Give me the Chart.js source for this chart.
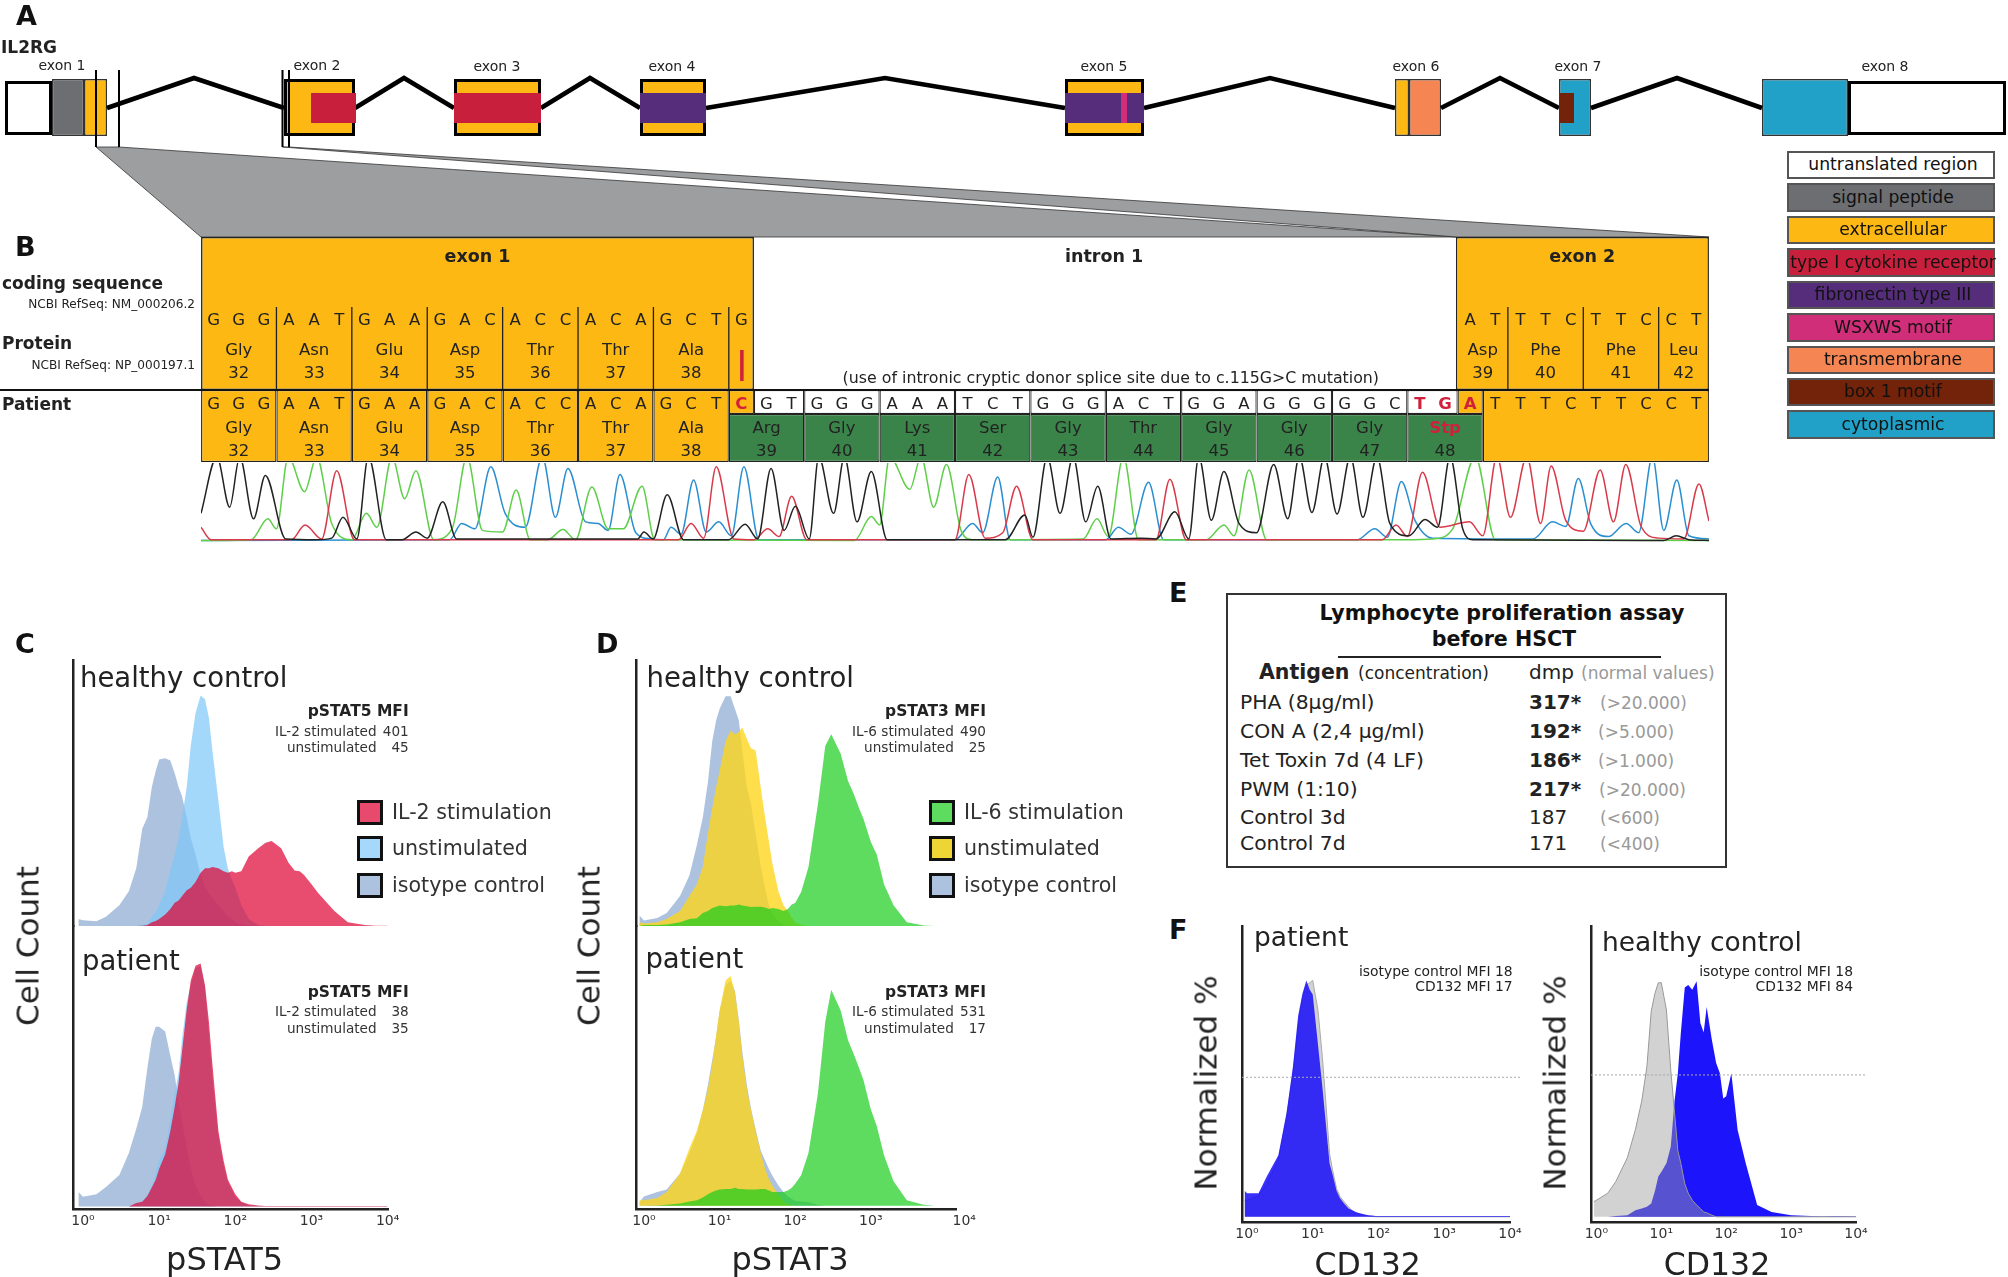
<!DOCTYPE html>
<html>
<head>
<meta charset="utf-8">
<title>IL2RG</title>
<script src="https://cdn.jsdelivr.net/npm/chart.js@4"></script>
<style>
html, body { margin: 0; background: #fff; }
#page { position: relative; width: 2008px; height: 1277px; overflow: hidden; font-family: "DejaVu Sans", sans-serif; }
canvas { position: absolute; }
.t { position: absolute; white-space: nowrap; line-height: 1; color: #222; }
.box { position: absolute; box-sizing: border-box; }
</style>
</head>
<body>
<div id="page"></div>
<script>
/* ---------- gene model (panel A) ---------- */
const exonNames = ["exon 1", "exon 2", "exon 3", "exon 4", "exon 5", "exon 6", "exon 7", "exon 8"];
const exonCentres = [62, 317, 497, 672, 1104, 1416, 1578, 1885];
const domainNames = ["untranslated region", "signal peptide", "extracellular", "type I cytokine receptor", "fibronectin type III", "WSXWS motif", "transmembrane", "box 1 motif", "cytoplasmic"];
const segStart = [5, 1848, 52, 84, 284, 454, 640, 1065, 1395, 1409, 1559, 1762];
const segEnd = [52, 2006, 84, 107, 355, 541, 706, 1144, 1409, 1441, 1591, 1848];
const segDomain = [0, 0, 1, 2, 2, 2, 2, 2, 2, 6, 8, 8];
const stripStart = [311, 454, 640, 1065, 1559, 1121];
const stripEnd = [356, 541, 706, 1144, 1574, 1127];
const stripDomain = [3, 3, 4, 4, 7, 5];
const intronX = [[107, 194, 284], [355, 404, 454], [541, 590, 640], [706, 885, 1065], [1144, 1270, 1395], [1441, 1500, 1559], [1591, 1677, 1762]];
const markerX = [96, 119, 282.5, 289];

/* ---------- sequence (panel B) ---------- */
const refBases = "GGGAATGAAGACACCACAGCTG";
const refBases2 = "ATTTCTTCCT";
const patientBases = "GGGAATGAAGACACCACAGCTCGTGGGAAATCTGGGACTGGAGGGGGCTGATTTCTTCCT";
const mutatedBases = [21, 48, 49, 50];
const refAA = ["Gly", "Asn", "Glu", "Asp", "Thr", "Thr", "Ala"];
const refAANum = [32, 33, 34, 35, 36, 37, 38];
const refAA2 = ["Asp", "Phe", "Phe", "Leu"];
const refAA2Num = [39, 40, 41, 42];
const refAA2Edges = [50, 52, 55, 58, 60];
const patientAA = ["Arg", "Gly", "Lys", "Ser", "Gly", "Thr", "Gly", "Gly", "Gly", "Stp"];
const patientAANum = [39, 40, 41, 42, 43, 44, 45, 46, 47, 48];

/* chromatogram traces: base position, signal */
const traceGx = [0, .63, 1.14, 1.54, 2.09, 2.56, 3.37, 4.59, 5.2, 5.65, 6.2, 6.66, 7.37, 8, 8.55, 9, 9.62, 10.17, 17.38, 17.62, 17.99, 18.55, 19.2, 20.43, 21, 21.65, 22.15, 22.68, 23.2, 23.65, 24.2, 24.58, 25.17, 25.6, 26.1, 26.67, 27.3, 32, 32.78, 33.1, 33.67, 34.18, 34.7, 35.2, 35.68, 36.2, 37.4, 38, 38.75, 39.3, 39.7, 40.2, 40.7, 41.3, 42, 42.68, 43.24, 43.7, 44.2, 44.7, 45.2, 45.73, 46.23, 46.79, 47.3, 48.06, 48.7, 49.2, 49.7, 50.2, 50.6, 58.2, 58.7, 59.2, 60];
const traceGy = [35, 108, 43, 108, 28, 84, 2, 1, 3, 30, 2, 108, 1, 1, 11, 3, 50, 2, 2, 11, 2, 59, 1, 1, 1, 21, 2, 93, 13, 44, 2, 108, 35, 108, 24, 89, 1, 1, 33, 4, 108, 35, 108, 24, 70, 2, 3, 2, 37, 2, 108, 26, 89, 22, 10, 98, 28, 108, 36, 108, 34, 108, 30, 108, 22, 6, 27, 17, 108, 15, 1, 0, 6, 1, 0];
const traceAx = [0, 2, 2.66, 3, 3.47, 4.12, 4.6, 5.2, 6, 6.58, 7, 7.6, 8.1, 8.55, 9.26, 10, 10.58, 11.2, 12, 12.54, 13.1, 13.8, 14.4, 14.9, 15.55, 16.2, 16.8, 17.55, 18.05, 26, 26.67, 27, 27.4, 28.2, 28.65, 29.15, 29.66, 30.24, 30.7, 35.1, 35.65, 36.1, 36.7, 37.3, 40, 40.7, 41.1, 41.7, 42.4, 48, 49, 49.8, 50.7, 51.5, 60];
const traceAy = [0, 1, 28, 15, 108, 63, 108, 22, 1, 35, 17, 108, 54, 90, 1, 16, 108, 13, 11, 65, 1, 1, 14, 1, 69, 15, 15, 70, 1, 0, 31, 20, 108, 66, 108, 43, 98, 13, 1, 2, 28, 5, 108, 1, 1, 20, 6, 91, 1, 1, 2, 15, 108, 1, 0];
const traceTx = [0, .4, 3.6, 4.14, 4.8, 5.4, 6.1, 19, 19.5, 20, 20.5, 21.2, 22, 22.55, 23, 23.5, 24.1, 30, 30.55, 31.2, 31.9, 32.45, 33.1, 38, 38.55, 39.2, 47, 47.55, 48, 48.6, 49.3, 50.47, 51, 51.56, 52.1, 52.75, 53.3, 53.72, 54.3, 55, 55.67, 56.2, 56.69, 57.3, 58, 59, 59.6, 60];
const traceTy = [17, 1, 1, 20, 2, 90, 1, 1, 22, 3, 95, 2, 1, 15, 5, 57, 1, 1, 85, 3, 10, 70, 1, 1, 79, 1, 1, 20, 5, 88, 17, 24, 6, 108, 30, 108, 22, 96, 26, 12, 91, 24, 98, 18, 3, 2, 73, 25];
const traceCx = [0, 9.9, 10.37, 10.9, 11.53, 12.1, 12.9, 13.58, 14.1, 14.6, 15.3, 15.8, 16.2, 16.67, 17.3, 17.9, 18.4, 18.7, 19.1, 19.6, 20.1, 20.6, 21.1, 21.6, 22.2, 30, 30.7, 31.1, 31.7, 32.2, 36, 36.5, 37, 37.7, 38.3, 46, 46.7, 47.2, 47.76, 48.3, 49, 53, 53.77, 54.3, 54.8, 55.3, 56, 56.7, 57.2, 57.75, 58.2, 58.72, 59.2, 60];
const traceCy = [0, 1, 22, 15, 95, 35, 17, 108, 30, 93, 24, 22, 13, 85, 10, 2, 1, 17, 8, 78, 11, 24, 6, 95, 1, 1, 22, 10, 82, 1, 1, 17, 8, 75, 1, 1, 15, 4, 76, 26, 3, 2, 24, 18, 80, 21, 5, 22, 10, 108, 13, 78, 6, 2];

/* ---------- flow cytometry histograms (panels C, D) ---------- */
const channels = [.87, 1, 1.5, 2, 3, 4, 5, 6, 7, 8, 9, 10, 12, 14, 16, 18, 20, 23, 26, 30, 35, 40, 45, 50, 60, 70, 80, 90, 100, 120, 150, 200, 250, 300, 400, 500, 600, 700, 800, 1000, 1200, 1500, 2000, 3000, 5000, 7000, 10000];
const tickValues = [1, 10, 100, 1000, 10000];
const tickLabels = ["10⁰", "10¹", "10²", "10³", "10⁴"];

const cHealthyIso = [3, 2.5, 2, 4, 9, 15, 25, 42, 47, 60, 67, 72, 72.5, 71.5, 66, 60, 56, 47, 38, 31, 22, 17, 14, 12, 9, 6.5, 4, 3, 1.6, .6, .2, 0, 0, 0, 0, 0, 0, 0, 0, 0, 0, 0, 0, 0, 0, 0, 0];
const cHealthyUnstim = [0, 0, 0, 0, 0, 0, 0, .5, 1, 4, 6, 9, 15, 24, 31, 38, 47, 60, 78, 92, 99.6, 98, 90, 76, 54, 34.5, 24.6, 20, 16.5, 9, 3, .4, 0, 0, 0, 0, 0, 0, 0, 0, 0, 0, 0, 0, 0, 0, 0];
const cHealthyStim = [0, 0, 0, 0, 0, 0, 0, .1, .4, 1.6, 2.2, 3, 5, 7.4, 10, 11, 13, 15.5, 16.5, 19, 23, 25, 25, 25.5, 25, 23.7, 23, 23.7, 23, 23.7, 30, 33.6, 36, 36.7, 33.6, 27.3, 24, 23.7, 22, 18, 14.6, 11, 6.5, 1.6, .4, .1, .1];
const cPatientIso = [6, 4, 5, 8, 13, 22, 32, 41, 57, 69, 74, 74, 72, 62, 54, 43, 34.5, 24, 15.5, 8.6, 4.3, 1.7, .6, .2, 0, 0, 0, 0, 0, 0, 0, 0, 0, 0, 0, 0, 0, 0, 0, 0, 0, 0, 0, 0, 0, 0, 0];
const cPatientUnstim = [0, 0, 0, 0, 0, 0, .8, 2, 5, 8.6, 14, 19, 24, 36, 46.5, 55, 69, 84, 91, 98, 99, 90, 71, 53, 29, 17, 10, 7, 4, 1.7, .5, .2, .1, .1, .1, .1, .1, .1, .1, .1, .1, .1, .1, .1, .1, .1, .1];
const cPatientStim = [0, 0, 0, 0, 0, 0, 1.4, 2, 4.3, 7.8, 11, 15.5, 21.5, 31, 41, 51, 64, 81, 93, 99, 100, 91, 76, 58.6, 31, 19, 11, 7.8, 5, 2, .9, .4, .2, .2, .2, .2, .2, .2, .2, .2, .2, .2, .2, .2, .2, .2, .2];

const dHealthyIso = [4.7, 2.4, 3.5, 5.6, 13, 22, 35, 47, 62, 80, 89, 94, 99.5, 99.5, 94, 89, 76, 60, 53, 40, 26, 16.5, 9, 5.6, 2, .5, 0, 0, 0, 0, 0, 0, 0, 0, 0, 0, 0, 0, 0, 0, 0, 0, 0, 0, 0, 0, 0];
const dHealthyUnstim = [1.6, 1.1, 1.6, 3, 6.5, 13, 18, 25.6, 40, 51, 60, 67, 80, 84.6, 83, 84, 86, 81, 77, 76, 60, 47, 36.5, 27, 15, 9, 6.5, 3.8, 1.6, .4, 0, 0, 0, 0, 0, 0, 0, 0, 0, 0, 0, 0, 0, 0, 0, 0, 0];
const dHealthyStim = [0, .4, .4, .7, 1.6, 3, 3.4, 5.6, 6.5, 7.8, 8.3, 8.9, 8.5, 8.9, 8.9, 9.3, 8.9, 8.5, 8.2, 8.3, 8.3, 8, 7.4, 7.8, 7.4, 6.5, 7.4, 9.3, 10, 14.7, 25.6, 52.8, 78, 83, 74.6, 62.8, 57, 51, 46.5, 36.5, 31, 18, 9, 1.6, .2, 0, 0];
const dPatientIso = [1.5, 4, 6, 7, 14, 23, 31.5, 41.6, 52.5, 63.5, 73.5, 84.5, 96, 98, 93.4, 80.7, 67, 52.5, 42.4, 33.3, 24, 19.7, 16, 13, 8.8, 6, 4, 2.9, 2.2, 1.8, 1.5, .4, 0, 0, 0, 0, 0, 0, 0, 0, 0, 0, 0, 0, 0, 0, 0];
const dPatientUnstim = [2.4, 2.4, 3.3, 6, 14, 25, 32.5, 41.6, 50.7, 61.7, 74, 85, 98, 100, 92.7, 80, 65, 50.7, 41.6, 32.5, 23, 16, 11.5, 8.8, 4.7, 1.8, .5, .2, 0, 0, 0, 0, 0, 0, 0, 0, 0, 0, 0, 0, 0, 0, 0, 0, 0, 0, 0];
const dPatientStim = [0, 0, .1, .4, 1, 1.8, 2.4, 3.6, 5, 6, 6.6, 7, 7.3, 7.3, 7.8, 7.3, 7.3, 7, 7, 7, 7.3, 7.3, 6.6, 6, 6, 6, 6.6, 7.8, 9.6, 13.3, 23, 49, 80, 94, 85, 72, 65.7, 60, 54.7, 42, 34.7, 21.9, 10.6, 2.4, .4, 0, 0];

/* ---------- CD132 histograms (panel F) ---------- */
const channelsF = [.92, 1, 1.5, 2, 3, 4, 5, 6, 7, 8, 9, 10, 12, 14, 16, 18, 20, 23, 26, 30, 35, 40, 45, 50, 60, 70, 80, 90, 100, 120, 150, 200, 300, 500, 1000, 2000, 3000, 5000, 10000];
const fPatientCD132 = [11, 10, 10, 17, 26, 44, 63.5, 85, 94.6, 100, 96, 94, 73, 55, 38, 22.6, 18, 11, 7.8, 5.6, 3.5, 2.8, 2, 1.6, 1.1, .7, .5, .3, .3, .3, .3, .3, .3, .3, .3, .3, .3, .3, .3];
const fPatientIso = [7, 7, 9, 14, 24, 42.4, 60.7, 80.5, 93, 98, 99, 100, 87.5, 67.8, 46.6, 26.8, 19.8, 12, 8.5, 6.4, 4.2, 2.5, 1.7, 1.3, .7, .3, .1, 0, 0, 0, 0, 0, 0, 0, 0, 0, 0, 0, 0];
const fHealthyCD132 = [0, 0, 0, .3, .7, 2.8, 3.5, 4.2, 5.6, 11, 17, 19, 22.6, 29.7, 49, 60.7, 77.7, 97, 98, 96, 99.6, 82, 78, 88.7, 75, 65, 60.7, 50, 51, 60.7, 36.7, 22.6, 5, 2, .7, .3, .2, .3, .2];
const fHealthyIso = [6.4, 7, 10, 15, 25, 37, 49, 63.5, 87, 94.6, 99, 99, 87.5, 62, 44, 28, 22.6, 14, 10, 7, 5, 3.5, 2, 1.7, .7, 0, 0, 0, 0, 0, 0, 0, 0, 0, 0, 0, 0, 0, 0];
const fHalfLine = [59, 60];

/* ---------- lymphocyte assay (panel E) ---------- */
const antigens = ["PHA (8µg/ml)", "CON A (2,4 µg/ml)", "Tet Toxin 7d (4 LF)", "PWM (1:10)", "Control 3d", "Control 7d"];
const dmp = ["317*", "192*", "186*", "217*", "187", "171"];
const normalValues = ["(>20.000)", "(>5.000)", "(>1.000)", "(>20.000)", "(<600)", "(<400)"];

/* ---------- colours ---------- */
const domainColors = ["#ffffff", "#6d6e71", "#fdb813", "#c8203c", "#552d7a", "#d12e7a", "#f58553", "#72230a", "#21a0c8"];
const YELLOW = "#fdb813", GREEN = "#3a8449", INK = "#222", RED = "#d0203c";
const isoFill = "rgba(138,168,208,.7)", blueFill = "rgba(126,199,248,.7)", redFill = "rgba(222,0,48,.7)";
const yellowFill = "rgba(254,214,30,.8)", greenFill = "rgba(24,205,28,.7)";

/* ---------- helpers ---------- */
const page = document.getElementById("page");

function addCanvas(left, top, width, height) {
    const c = document.createElement("canvas");
    c.width = width;
    c.height = height;
    c.style.left = left + "px";
    c.style.top = top + "px";
    page.appendChild(c);
    return c;
}

function label(text, x, y, size, opts = {}) {
    const d = document.createElement("div");
    d.className = "t";
    d.textContent = text;
    d.style.left = x + "px";
    d.style.top = y + "px";
    d.style.fontSize = size + "px";
    if (opts.bold) d.style.fontWeight = "bold";
    if (opts.color) d.style.color = opts.color;
    const tx = opts.anchor === "c" ? "-50%" : opts.anchor === "r" ? "-100%" : "0";
    d.style.transform = `translate(${tx},-50%)` + (opts.rot ? ` rotate(${opts.rot}deg)` : "");
    page.appendChild(d);
}

function box(left, top, width, height, fill, border) {
    const d = document.createElement("div");
    d.className = "box";
    d.style.cssText = `left:${left}px;top:${top}px;width:${width}px;height:${height}px;background:${fill};border:${border}`;
    page.appendChild(d);
}

function hiddenScale(min, max, extra) {
    return Object.assign({ type: "linear", display: false, min, max, offset: false, grid: { display: false } }, extra);
}

function baseOptions(scales, padding) {
    return {
        responsive: false, animation: false, devicePixelRatio: 1, events: [],
        layout: { padding: padding || 0 },
        elements: { point: { radius: 0 } },
        plugins: { legend: { display: false }, tooltip: { enabled: false } },
        scales
    };
}

function band(ranges, top, bottom, fill, border, width) {
    return {
        type: "bar", indexAxis: "y", stack: "row", xAxisID: "x", yAxisID: "y",
        data: ranges.map(r => ({ x: r, y: (top + bottom) / 2 })),
        barThickness: bottom - top, backgroundColor: fill,
        borderColor: border || fill, borderWidth: width || 0, borderSkipped: false, inflateAmount: 0
    };
}

function path(points, color, width, extra) {
    return Object.assign({ type: "line", xAxisID: "x", yAxisID: "y2", data: points.map(p => ({ x: p[0], y: p[1] })), borderColor: color, borderWidth: width, pointRadius: 0, tension: 0 }, extra);
}

/* ---------- panel A chart ---------- */
const geneDatasets = [];
stripStart.slice().reverse().forEach((s, i) => {
    const k = stripStart.length - 1 - i;
    geneDatasets.push(band([[s, stripEnd[k]]], 93, 123, domainColors[stripDomain[k]]));
});
markerX.forEach(x => geneDatasets.push(path([[x, 70], [x, 147]], "#000", 2)));
intronX.forEach(p => geneDatasets.push(path([[p[0], 108], [p[1], 78], [p[2], 108]], "#000", 4.6)));
segStart.forEach((s, i) => {
    const d = segDomain[i];
    const thick = d === 2 && s >= 284 && s < 1100;
    const utr = d === 0;
    geneDatasets.push(band([[s, segEnd[i]]], utr ? 81 : 79, utr ? 135 : 136, domainColors[d], utr || thick ? "#000" : "#333", utr ? 3 : thick ? 3 : 1.5));
});
geneDatasets.push(path([[282.5, 147], [289, 147], [1709, 237], [1457, 237], [282.5, 147]], "#333", .8, { fill: "shape", backgroundColor: "#9d9ea0" }));
geneDatasets.push(path([[96, 147], [119, 147], [1457, 237], [201, 237], [96, 147]], "#333", .8, { fill: "shape", backgroundColor: "#9d9ea0" }));

new Chart(addCanvas(0, 0, 2008, 240), {
    type: "line",
    data: { datasets: geneDatasets },
    options: baseOptions({
        x: hiddenScale(0, 2008, { stacked: false }),
        y: hiddenScale(0, 240, { reverse: true, stacked: true }),
        y2: hiddenScale(0, 240, { axis: "y", reverse: true })
    })
});

/* ---------- panel B chart ---------- */
const codonEdges = [0, 3, 6, 9, 12, 15, 18, 21];
const greenEdges = [21, 24, 27, 30, 33, 36, 39, 42, 45, 48, 51];
const pairs = e => e.slice(0, -1).map((v, i) => [v, e[i + 1]]);
const dividerPoints = [];
[3, 6, 9, 12, 15, 18, 21, 52, 55, 58].forEach(b => { dividerPoints.push([b, 307], [b, 390], [b, null]); });

const seqDatasets = [
    path([[21.52, 350], [21.52, 381]], RED, 3.5),
    path([[-8, 390], [60, 390]], "#111", 2),
    path(dividerPoints, "#222", 1.3),
    band(pairs(codonEdges), 390, 462, YELLOW, "#222", 1.3),
    band([[21, 22], [50, 51]], 390, 414, YELLOW, "#222", 1.2),
    band([[22, 24], [24, 27], [27, 30], [30, 33], [33, 36], [36, 39], [39, 42], [42, 45], [45, 48], [48, 50]], 390, 414, "#fff", "#222", 1.2),
    band(pairs(greenEdges), 414, 462, GREEN, "#222", 1.2),
    band([[51, 60]], 390, 462, YELLOW, "#222", 1.3),
    band([[0, 22]], 237, 390, YELLOW, "#222", 1.5),
    band([[49.93, 60]], 237, 390, YELLOW, "#222", 1.5)
];

const seqText = {
    id: "seqText",
    afterDatasetsDraw(chart) {
        const { ctx, scales: { x, y } } = chart;
        const put = (t, b, row, color, bold, size) => {
            ctx.font = `${bold ? "bold " : ""}${size || 16.5}px "DejaVu Sans"`;
            ctx.fillStyle = color || INK;
            ctx.fillText(t, x.getPixelForValue(b), y.getPixelForValue(row));
        };
        ctx.save();
        ctx.textAlign = "center";
        ctx.textBaseline = "middle";
        put("exon 1", 11, 257, INK, true, 17.5);
        put("intron 1", 35.93, 257, INK, true, 17.5);
        put("exon 2", 54.96, 257, INK, true, 17.5);
        put("(use of intronic cryptic donor splice site due to c.115G>C mutation)", 36.2, 379, INK, false, 15.8);
        [...refBases].forEach((c, i) => put(c, i + .5, 321));
        [...refBases2].forEach((c, i) => put(c, 50 + i + .5, 321));
        [...patientBases].forEach((c, i) => {
            const red = mutatedBases.includes(i);
            put(c, i + .5, 405, red ? RED : INK, red);
        });
        refAA.forEach((a, i) => {
            const m = codonEdges[i] + 1.5;
            put(a, m, 351); put(String(refAANum[i]), m, 374);
            put(a, m, 429); put(String(refAANum[i]), m, 452);
        });
        refAA2.forEach((a, i) => {
            const m = (refAA2Edges[i] + refAA2Edges[i + 1]) / 2;
            put(a, m, 351); put(String(refAA2Num[i]), m, 374);
        });
        patientAA.forEach((a, i) => {
            const m = greenEdges[i] + 1.5;
            put(a, m, 429, a === "Stp" ? RED : INK, a === "Stp");
            put(String(patientAANum[i]), m, 452);
        });
        ctx.restore();
    }
};

new Chart(addCanvas(0, 230, 1720, 240), {
    type: "line",
    data: { datasets: seqDatasets },
    options: baseOptions({
        x: hiddenScale(-8, 60.44, { stacked: false }),
        y: hiddenScale(230, 470, { reverse: true, stacked: true }),
        y2: hiddenScale(230, 470, { axis: "y", reverse: true })
    }),
    plugins: [seqText]
});

/* chromatogram */
const trace = (xs, ys, color) => ({
    data: xs.map((x, i) => ({ x, y: ys[i] })), borderColor: color, borderWidth: 1.5,
    pointRadius: 0, cubicInterpolationMode: "monotone"
});
new Chart(addCanvas(201, 463, 1508, 79), {
    type: "line",
    data: { datasets: [trace(traceGx, traceGy, "#222"), trace(traceTx, traceTy, "#d93a4a"), trace(traceAx, traceAy, "#5fcf4a"), trace(traceCx, traceCy, "#2a8fd0")] },
    options: baseOptions({ x: hiddenScale(0, 60), y: hiddenScale(-2, 100) })
});

/* ---------- histogram charts ---------- */
function xAxis(min, max, lastPad) {
    return {
        type: "logarithmic", min, max, grid: { display: false, drawTicks: false },
        border: { display: true, color: "#222", width: 2.5 },
        ticks: {
            autoSkip: false, maxRotation: 0, padding: 4, color: "#333", font: { family: "DejaVu Sans", size: 14 },
            // panel D prints its last label right of the true decade
            callback: v => (v === 10000 && lastPad ? "\u00A0".repeat(lastPad) : "") + tickLabels[Math.round(Math.log10(v))]
        },
        afterBuildTicks: s => { s.ticks = tickValues.map(value => ({ value })); },
        afterFit: s => { s.height = 24; }
    };
}

function yAxis(min, max, weight) {
    const a = {
        type: "linear", position: "left", min, max, grid: { display: false, drawTicks: false },
        border: { display: true, color: "#222", width: 2.5 }, ticks: { display: false },
        afterFit: s => { s.width = 0; }
    };
    if (weight) { a.stack = "cells"; a.stackWeight = weight; }
    return a;
}

function filled(xs, ys, color, yAxisID, outline) {
    return {
        data: xs.map((x, i) => ({ x, y: ys[i] })), yAxisID, fill: { value: 0 }, backgroundColor: color,
        borderColor: outline || "transparent", borderWidth: outline ? 1 : 0, pointRadius: 0, tension: 0
    };
}

function stackedPanel(canvasLeft, areaLeft, areaRight, xMin, xMax, lastPad, topMax, botMin, botMax, datasets) {
    const width = areaRight + 42 - canvasLeft, top = 650, height = 600;
    new Chart(addCanvas(canvasLeft, top, width, height), {
        type: "line",
        data: { datasets },
        options: baseOptions({
            x: xAxis(xMin, xMax, lastPad),
            yBot: yAxis(botMin, botMax, 283),
            yTop: yAxis(0, topMax, 266)
        }, { left: areaLeft - canvasLeft, right: 42, top: 10, bottom: top + height - 1209 - 24 })
    });
}

stackedPanel(0, 73.5, 388, .75, 10115, 0, 115, -1.03, 115.4, [
    filled(channels, cHealthyStim, redFill, "yTop"),
    filled(channels, cHealthyUnstim, blueFill, "yTop"),
    filled(channels, cHealthyIso, isoFill, "yTop"),
    filled(channels, cPatientStim, redFill, "yBot"),
    filled(channels, cPatientUnstim, blueFill, "yBot"),
    filled(channels, cPatientIso, isoFill, "yBot")
]);

stackedPanel(580, 636, 956.5, .785, 13400, 8, 115.2, -1.44, 121.8, [
    filled(channels, dHealthyStim, greenFill, "yTop"),
    filled(channels, dHealthyUnstim, yellowFill, "yTop"),
    filled(channels, dHealthyIso, isoFill, "yTop"),
    filled(channels, dPatientStim, greenFill, "yBot"),
    filled(channels, dPatientUnstim, yellowFill, "yBot"),
    filled(channels, dPatientIso, isoFill, "yBot")
]);

function cd132Panel(canvasLeft, areaLeft, areaRight, xMin, half, datasets) {
    const top = 916, height = 346, width = areaRight + 30 - canvasLeft;
    datasets.unshift({ data: [{ x: xMin, y: half }, { x: 14500, y: half }], borderColor: "#aaa", borderWidth: 1, borderDash: [2, 2], pointRadius: 0, clip: false });
    new Chart(addCanvas(canvasLeft, top, width, height), {
        type: "line",
        data: { datasets },
        options: baseOptions({ x: xAxis(xMin, 10000), y: yAxis(-2.2, 123) },
            { left: areaLeft - canvasLeft, right: 30, top: 10, bottom: top + height - 1222 - 24 })
    });
}

cd132Panel(1215, 1242, 1510, .84, fHalfLine[0], [
    filled(channelsF, fPatientCD132, "rgba(20,10,250,.84)", "y"),
    filled(channelsF, fPatientIso, "#d2d2d2", "y", "#aaa")
]);
cd132Panel(1565, 1591, 1856, .826, fHalfLine[1], [
    filled(channelsF, fHealthyIso, "rgba(157,157,157,.46)", "y", "#999"),
    filled(channelsF, fHealthyCD132, "#1c14fa", "y")
]);

/* ---------- text and legends ---------- */
[["A", 16, 15], ["B", 15, 246], ["C", 15, 643], ["D", 596, 643], ["E", 1169, 592], ["F", 1169, 929]].forEach(p => label(p[0], p[1], p[2], 27, { bold: true, color: "#111" }));

label("IL2RG", 1, 47, 17, { bold: true });
exonNames.forEach((n, i) => label(n, exonCentres[i], i < 2 ? 65 : 66, 14, { anchor: "c" }));

domainNames.forEach((n, i) => {
    const top = 150.7 + i * 32.47;
    box(1787, top, 208, 28.5, domainColors[i], "2px solid #555");
    label(n, 1893, top + 14.5, 17.2, { anchor: "c", color: "#111" });
});

label("coding sequence", 2, 283, 17, { bold: true });
label("NCBI RefSeq: NM_000206.2", 195, 304, 12.1, { anchor: "r" });
label("Protein", 2, 343, 17, { bold: true });
label("NCBI RefSeq: NP_000197.1", 195, 365, 12.1, { anchor: "r" });
label("Patient", 2, 404, 17, { bold: true });

function flowText(mfi, stimName, stimTop, unTop, stimBot, unBot, headRight, nameRight, healthyX, patientX, patientY, swatchX, textX, legend, axisX, axisName, axisNameX) {
    label("healthy control", healthyX, 678, 27.5, { color: "#222" });
    label("patient", patientX, patientY, 27.5);
    [[712, 732, 748, stimTop, unTop], [993, 1012, 1029, stimBot, unBot]].forEach(r => {
        label(mfi + " MFI", headRight, r[0], 15.5, { anchor: "r", bold: true });
        label(stimName + " stimulated", nameRight, r[1], 13.6, { anchor: "r", color: "#333" });
        label("unstimulated", nameRight, r[2], 13.6, { anchor: "r", color: "#333" });
        label(r[3], headRight, r[1], 13.6, { anchor: "r", color: "#333" });
        label(r[4], headRight, r[2], 13.6, { anchor: "r", color: "#333" });
    });
    [811.7, 848, 884.6].forEach((y, i) => {
        box(swatchX, y - 12, 26, 25, legend[i][1], "3px solid #111");
        label(legend[i][0], textX, y, 20.6, { color: "#333" });
    });
    label("Cell Count", axisX, 946, 31, { anchor: "c", rot: -90, color: "#222" });
    label(axisName, axisNameX, 1259, 32, { anchor: "c" });
}

flowText("pSTAT5", "IL-2", "401", "45", "38", "35", 408.7, 376.6, 80, 82, 961, 356.7, 392,
    [["IL-2 stimulation", "#e84a6e"], ["unstimulated", "#a5d8fa"], ["isotype control", "#adc2de"]], 27.5, "pSTAT5", 224.6);
flowText("pSTAT3", "IL-6", "490", "25", "531", "17", 986, 953.8, 646.5, 645.4, 958.5, 928.6, 964,
    [["IL-6 stimulation", "#5ddc60"], ["unstimulated", "#eed536"], ["isotype control", "#adc2de"]], 589, "pSTAT3", 790);

/* panel E */
box(1226, 592.7, 501, 275, "transparent", "2px solid #333");
box(1338, 656, 323, 2, "#222", "none");
label("Lymphocyte proliferation assay", 1502, 613, 20.6, { anchor: "c", bold: true, color: "#111" });
label("before HSCT", 1504, 639, 20.6, { anchor: "c", bold: true, color: "#111" });
label("Antigen", 1259, 672, 20.5, { bold: true });
label("(concentration)", 1358, 673, 17);
label("dmp", 1529, 672, 20);
label("(normal values)", 1581, 673, 17, { color: "#999" });
const rowY = [702, 731, 760, 789, 817, 843];
const normalX = [1600, 1598, 1598, 1599, 1600, 1600];
antigens.forEach((a, i) => {
    label(a, 1240, rowY[i], 20.3);
    label(dmp[i], 1529, rowY[i], 20, { bold: i < 4 });
    label(normalValues[i], normalX[i], rowY[i] + 1, 17, { color: "#999" });
});

/* panel F */
label("patient", 1254, 937, 26.5);
label("healthy control", 1602, 942, 26.5);
label("isotype control MFI 18", 1512.7, 972, 13.9, { anchor: "r" });
label("CD132 MFI 17", 1512.7, 987, 13.9, { anchor: "r" });
label("isotype control MFI 18", 1853, 972, 13.9, { anchor: "r" });
label("CD132 MFI 84", 1853, 987, 13.9, { anchor: "r" });
label("Normalized %", 1206, 1083, 31, { anchor: "c", rot: -90 });
label("Normalized %", 1555, 1083, 31, { anchor: "c", rot: -90 });
label("CD132", 1367.7, 1265, 31.5, { anchor: "c" });
label("CD132", 1717, 1265, 31.5, { anchor: "c" });
</script>
</body>
</html>
